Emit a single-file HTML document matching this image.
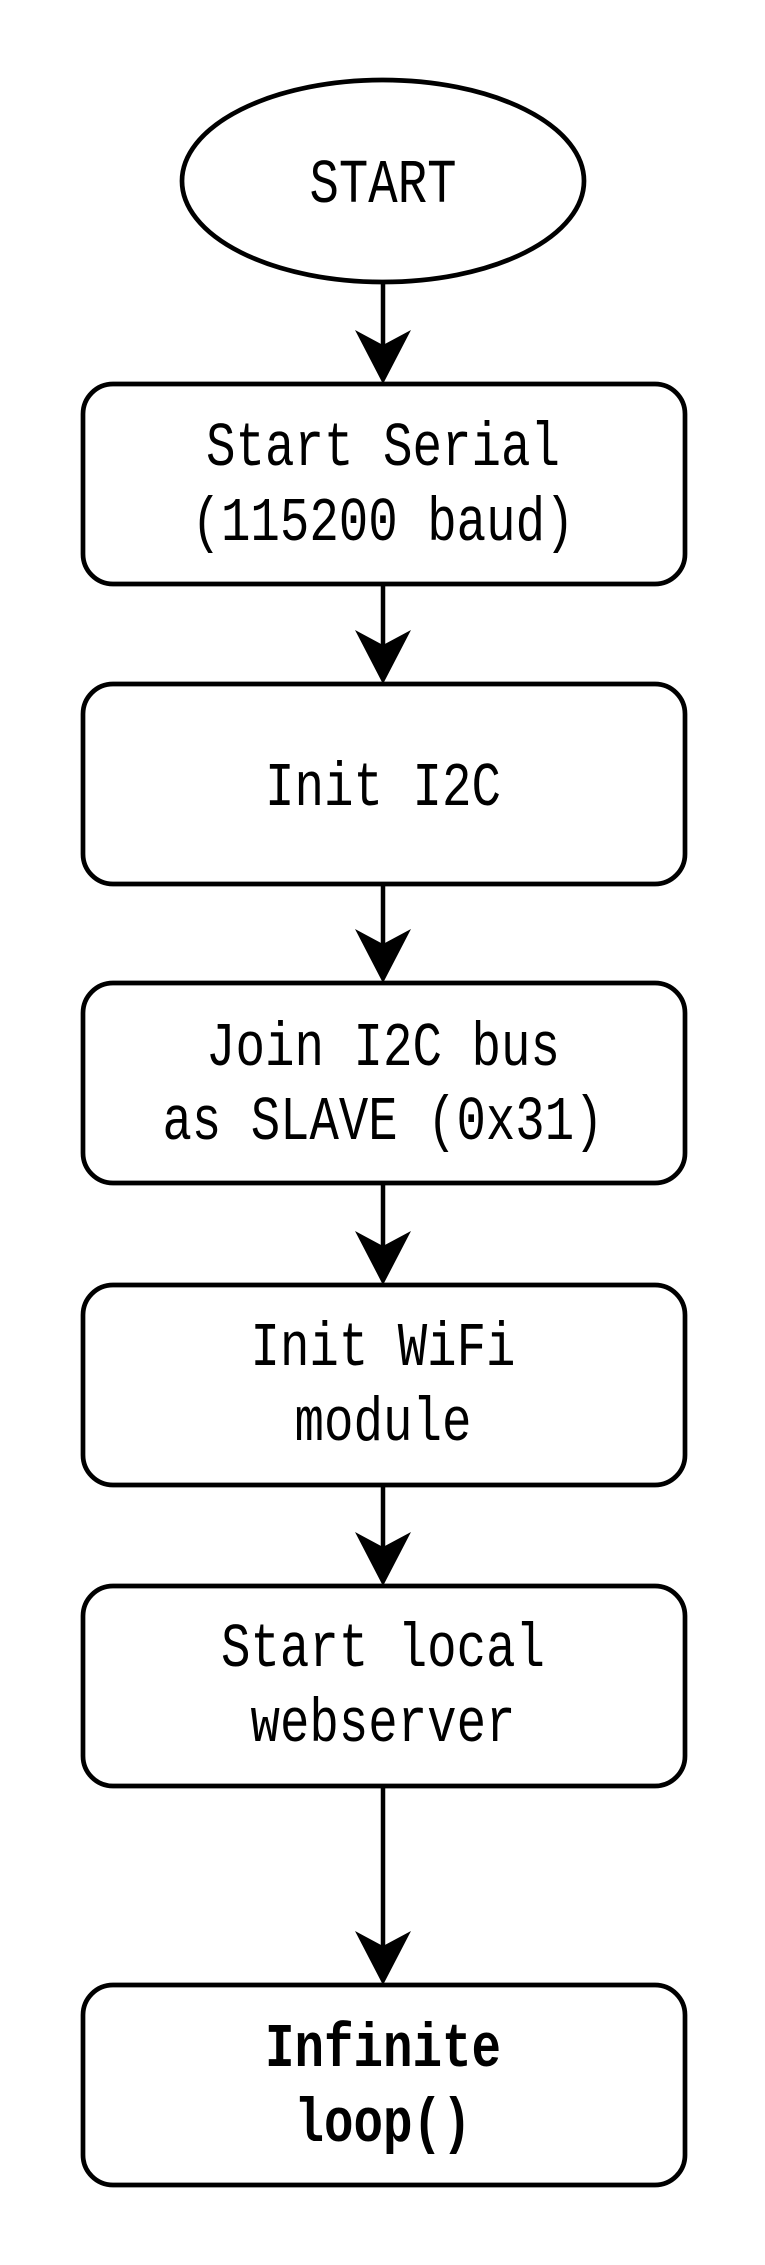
<!DOCTYPE html>
<html><head><meta charset="utf-8"><style>html,body{margin:0;padding:0;background:#fff}svg{display:block}</style></head>
<body>
<svg width="765" height="2265" viewBox="0 0 765 2265" xmlns="http://www.w3.org/2000/svg">
<g fill="none" stroke="#000" stroke-width="4.7">
<ellipse cx="383" cy="181" rx="201" ry="101"/>
<rect x="83" y="384" width="602" height="200" rx="30"/>
<rect x="83" y="684" width="602" height="200" rx="30"/>
<rect x="83" y="983" width="602" height="200" rx="30"/>
<rect x="83" y="1285" width="602" height="200" rx="30"/>
<rect x="83" y="1586" width="602" height="200" rx="30"/>
<rect x="83" y="1985" width="602" height="200" rx="30"/>
</g>
<g stroke="#000" stroke-width="4.5">
<line x1="383" y1="282" x2="383" y2="360"/>
<line x1="383" y1="584" x2="383" y2="660"/>
<line x1="383" y1="884" x2="383" y2="960"/>
<line x1="383" y1="1183" x2="383" y2="1260"/>
<line x1="383" y1="1485" x2="383" y2="1560"/>
<line x1="383" y1="1786" x2="383" y2="1960"/>
</g>
<g fill="#000">
<path d="M355,330 L383,345 L411,330 L383,384 Z"/>
<path d="M355,630 L383,645 L411,630 L383,684 Z"/>
<path d="M355,929 L383,944 L411,929 L383,983 Z"/>
<path d="M355,1231 L383,1246 L411,1231 L383,1285 Z"/>
<path d="M355,1532 L383,1547 L411,1532 L383,1586 Z"/>
<path d="M355,1931 L383,1946 L411,1931 L383,1985 Z"/>
</g>
<g font-family="Liberation Mono, monospace" font-size="62" text-anchor="middle" fill="#000">
<text x="383" y="202" textLength="147" lengthAdjust="spacingAndGlyphs">START</text>
<text x="383" y="465" textLength="354" lengthAdjust="spacingAndGlyphs">Start Serial</text>
<text x="383" y="540" textLength="383" lengthAdjust="spacingAndGlyphs">(115200 baud)</text>
<text x="383" y="805" textLength="236" lengthAdjust="spacingAndGlyphs">Init I2C</text>
<text x="383" y="1065" textLength="354" lengthAdjust="spacingAndGlyphs">Join I2C bus</text>
<text x="383" y="1139" textLength="441" lengthAdjust="spacingAndGlyphs">as SLAVE (0x31)</text>
<text x="383" y="1365" textLength="265" lengthAdjust="spacingAndGlyphs">Init WiFi</text>
<text x="383" y="1440" textLength="177" lengthAdjust="spacingAndGlyphs">module</text>
<text x="383" y="1666" textLength="324" lengthAdjust="spacingAndGlyphs">Start local</text>
<text x="383" y="1741" textLength="265" lengthAdjust="spacingAndGlyphs">webserver</text>
<text x="383" y="2066" textLength="236" lengthAdjust="spacingAndGlyphs" font-weight="bold">Infinite</text>
<text x="383" y="2141" textLength="177" lengthAdjust="spacingAndGlyphs" font-weight="bold">loop()</text>
</g>
</svg>
</body></html>
